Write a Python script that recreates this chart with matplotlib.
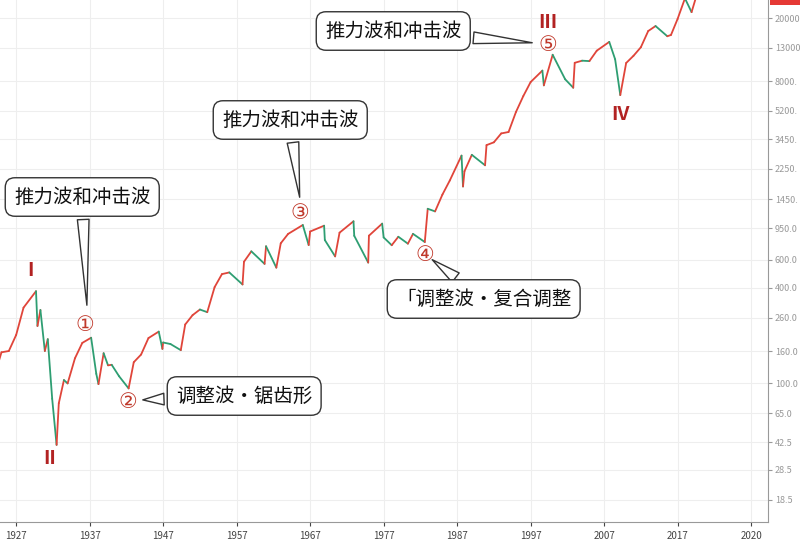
import matplotlib.pyplot as plt
from matplotlib.patches import FancyBboxPatch

plt.rcParams["font.family"] = ["Noto Sans CJK SC", "DejaVu Sans"]

# Dow Jones, approximate yearly path incl. key extremes (year, price)
YEARS = [1924, 1925, 1926, 1927, 1928, 1929.7, 1929.9, 1930.3, 1930.9, 1931.3, 1931.9, 1932.5,
         1932.8, 1933.5, 1934, 1935, 1936, 1937.2, 1937.9, 1938.2, 1938.9, 1939.5, 1940, 1941,
         1942.3, 1943, 1944, 1945, 1946.4, 1946.9, 1947, 1948, 1949.4, 1950, 1951, 1952, 1953,
         1954, 1955, 1956, 1957.8, 1958, 1959, 1960.8, 1961, 1962.4, 1963, 1964, 1966.0,
         1966.8, 1967, 1968.9, 1969, 1970.4, 1971, 1972.9, 1973, 1974.9, 1975, 1976.8, 1977,
         1978.1, 1979, 1980.3, 1981, 1982.6, 1983, 1984, 1985, 1986, 1987.6, 1987.8, 1988,
         1989, 1990.8, 1991, 1992, 1993, 1994, 1995, 1996, 1997, 1998.6, 1998.8, 2000.0,
         2001.7, 2002.8, 2003, 2004, 2005, 2006, 2007.7, 2008.5, 2009.2, 2010, 2011, 2012,
         2013, 2014, 2015.6, 2016.1, 2017, 2018.0, 2018.9, 2019.5]
PRICES = [110, 157, 160, 202, 300, 381, 230, 290, 160, 190, 80, 41,
          75, 105, 100, 144, 180, 194, 115, 99, 155, 130, 131, 111,
          93, 136, 152, 193, 212, 165, 181, 177, 162, 235, 269, 292, 281,
          404, 488, 500, 420, 584, 679, 566, 731, 536, 763, 874, 995,
          744, 905, 985, 800, 631, 890, 1050, 851, 577, 852, 1015, 831,
          742, 839, 759, 875, 777, 1259, 1212, 1547, 1896, 2722, 1739, 2169,
          2753, 2365, 3169, 3301, 3754, 3834, 5117, 6448, 7908, 9338, 7539, 11750,
          8236, 7286, 10454, 10783, 10718, 12463, 14164, 11000, 6547, 10428, 11578, 13104,
          16577, 17823, 15370, 15660, 19763, 26617, 21800, 27000]

YTICKS = [18.5, 28.5, 42.5, 65.0, 100.0, 160.0, 260.0, 400.0, 600.0, 950.0,
          1450.0, 2250.0, 3450.0, 5200.0, 8000.0, 13000.0, 20000.0]
YTICK_LABELS = ["18.5", "28.5", "42.5", "65.0", "100.0", "160.0", "260.0", "400.0", "600.0",
                "950.0", "1450.", "2250.", "3450.", "5200.", "8000.", "13000", "20000"]
# the last tick label sits further right in the reference than its year
XTICKS = [1927, 1937, 1947, 1957, 1967, 1977, 1987, 1997, 2007, 2017, 2027]
XTICK_LABELS = ["1927", "1937", "1947", "1957", "1967", "1977", "1987", "1997", "2007", "2017", "2020"]

UP, DOWN = "#e0453a", "#2e9e72"

fig = plt.figure(figsize=(8.0, 5.43), dpi=100)
ax = fig.add_axes([0, 21 / 543, 768 / 800, 522 / 543])
ax.set_yscale("log")
ax.set_xlim(1924.8, 2029.3)
ax.set_ylim(13.4, 26000)

for i in range(1, len(YEARS)):
    c = UP if PRICES[i] >= PRICES[i - 1] else DOWN
    ax.plot(YEARS[i - 1:i + 1], PRICES[i - 1:i + 1], color=c, lw=1.3, solid_capstyle="round")

ax.yaxis.tick_right()
ax.set_yticks(YTICKS)
ax.set_yticklabels(YTICK_LABELS)
ax.minorticks_off()
ax.set_xticks(XTICKS)
ax.set_xticklabels(XTICK_LABELS)
ax.tick_params(axis="y", labelsize=6.5, colors="#999999", length=3, pad=2)
ax.tick_params(axis="x", labelsize=7, colors="#444444", length=3)
ax.grid(True, color="#eeeeee", lw=0.8)
for s in ["top", "left"]:
    ax.spines[s].set_visible(False)
for s in ["right", "bottom"]:
    ax.spines[s].set_color("#999999")


def px(x, y):
    return (x, 543 - y)


def fr(x, y):
    return (x / 800, (543 - y) / 543)


def callout(text, box_xy, tip):
    ax.annotate(text, xy=px(*tip), xycoords="figure pixels",
                xytext=px(*box_xy), textcoords="figure pixels",
                fontsize=14, color="#111111", va="center", ha="left",
                bbox=dict(boxstyle="round,pad=0.45,rounding_size=0.5", fc="white", ec="#333333", lw=1),
                arrowprops=dict(arrowstyle="wedge,tail_width=0.6", fc="white", ec="#333333", lw=1))


callout("推力波和冲击波", (14, 197), (87, 308))
callout("推力波和冲击波", (222, 120), (300, 200))
callout("推力波和冲击波", (325, 31), (535, 43))
callout("「调整波・复合调整", (396, 299), (430, 258))
callout("调整波・锯齿形", (176, 396), (140, 400))

for lab, (x, y) in zip(["①", "②", "③", "④", "⑤"],
                       [(85, 325), (128, 402), (300, 213), (425, 255), (548, 45)]):
    fig.text(*fr(x, y), lab, fontsize=15, color="#c0392b", ha="center", va="center",
             family=["DejaVu Sans"])
for lab, (x, y) in zip(["I", "II", "III", "IV"],
                       [(30, 270), (50, 458), (548, 22), (620, 115)]):
    fig.text(*fr(x, y), lab, fontsize=14, color="#b22222", ha="center", va="center",
             fontweight="bold")

fig.patches.append(FancyBboxPatch((770, 538), 30, 5, transform=None, boxstyle="square,pad=0",
                                  fc="#e53935", ec="none"))
fig.savefig("out.png", dpi=100)
